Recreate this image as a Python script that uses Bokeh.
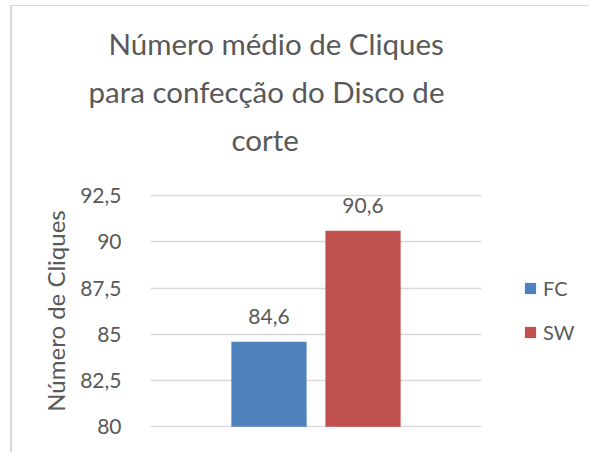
from bokeh.plotting import figure
from bokeh.models import (ColumnDataSource, FactorRange, Range1d, FixedTicker,
                          LabelSet, Legend, LegendItem, Title)
from bokeh.core.properties import value
from bokeh.embed import file_html
from bokeh.resources import INLINE

# ---- data ----
categories = ["FC", "SW"]
values = [84.6, 90.6]
colors = ["#4f81bd", "#c0504d"]
title_lines = ["Número médio de Cliques", "para confecção do Disco de", "corte"]
y_ticks = [80, 82.5, 85, 87.5, 90, 92.5]
y_tick_labels = ["80", "82,5", "85", "87,5", "90", "92,5"]
y_label = "Número de Cliques"

FONT = "Lato"
TXT = "#595959"

src = ColumnDataSource(dict(
    cat=categories, val=values, color=colors,
    lbl=[f"{v:.1f}".replace(".", ",") for v in values],
))

p = figure(
    frame_width=331, frame_height=233,
    x_range=FactorRange(factors=categories, range_padding=0.76, range_padding_units="percent"),
    y_range=Range1d(79.96, 92.56),
    output_backend="svg", toolbar_location=None,
    min_border_left=138, min_border_right=108, min_border_top=188, min_border_bottom=25,
)
p.styles = {"border-left": "2px solid #d9d9d9", "border-top": "1px solid #d9d9d9",
            "margin-left": "10px", "margin-top": "5px"}
p.title.visible = False

r = p.vbar(x="cat", top="val", bottom=80, width=0.8, color="color", line_color=None, source=src)

p.add_layout(LabelSet(x="cat", y="val", text="lbl", source=src, y_offset=18,
                      text_align="center", text_baseline="alphabetic",
                      text_font=value(FONT), text_font_size="21px", text_color=TXT))

# gap between plot area and title block
p.add_layout(Title(text=" ", standoff=0, text_font_size="27px"), "above")
# title lines, stacked above (first added = closest to frame)
title_offsets = [-42, -62, 81]
for line, off in reversed(list(zip(title_lines, title_offsets))):
    p.add_layout(Title(text=line, align="left", offset=off, standoff=11,
                       text_font=FONT, text_font_size="29.5px", text_color=TXT,
                       text_font_style="normal"), "above")

legend = Legend(items=[LegendItem(label=c, renderers=[r], index=i) for i, c in enumerate(categories)],
                location=(42, 83), glyph_width=14, glyph_height=14, label_standoff=6,
                spacing=20, padding=0, margin=0, border_line_color=None,
                background_fill_alpha=0, label_text_font=FONT, label_text_font_size="20px",
                label_text_color=TXT)
p.add_layout(legend, "right")

p.xaxis.visible = False
p.xgrid.visible = False
p.ygrid.grid_line_color = "#d9d9d9"
p.ygrid.grid_line_width = 1.5
p.outline_line_color = None

ax = p.yaxis[0]
ax.ticker = FixedTicker(ticks=y_ticks)
ax.major_label_overrides = dict(zip(y_ticks, y_tick_labels))
ax.axis_line_color = None
ax.major_tick_line_color = None
ax.minor_tick_line_color = None
ax.major_label_standoff = 23
ax.major_label_text_font = FONT
ax.major_label_text_font_size = "21px"
ax.major_label_text_color = TXT
ax.axis_label = y_label
ax.axis_label_text_font = FONT
ax.axis_label_text_font_size = "24px"
ax.axis_label_text_font_style = "normal"
ax.axis_label_text_color = TXT
ax.axis_label_standoff = 7

open("out.html", "w").write(file_html(p, INLINE))
